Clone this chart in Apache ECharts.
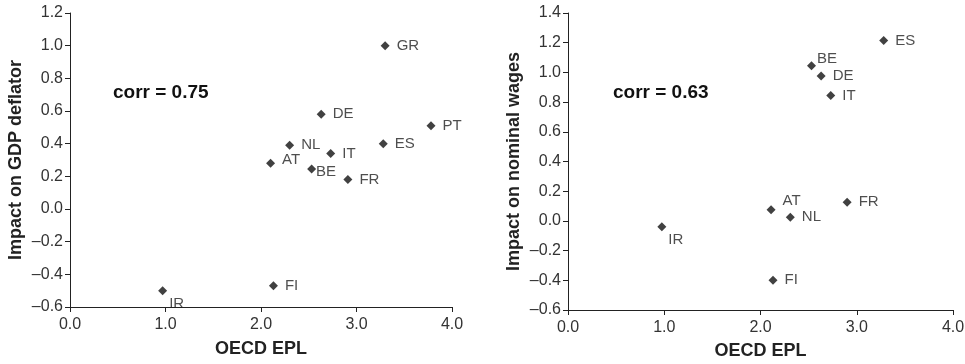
<!DOCTYPE html>
<html><head><meta charset="utf-8">
<script src="https://cdn.jsdelivr.net/npm/echarts@6/dist/echarts.min.js"></script>
<style>html,body{margin:0;padding:0;background:#fff}#c{width:965px;height:364px}</style>
</head><body><div id="c"></div>
<script>
// Left panel: Impact on GDP deflator
const leftCountries = ['GR','DE','PT','NL','ES','IT','AT','BE','FR','FI','IR'];
const leftEPL       = [3.30, 2.63, 3.78, 2.30, 3.28, 2.73, 2.10, 2.53, 2.91, 2.13, 0.97];
const leftImpact    = [1.00, 0.58, 0.51, 0.39, 0.40, 0.34, 0.28, 0.245, 0.18, -0.47, -0.50];
// Right panel: Impact on nominal wages
const rightCountries = ['ES','BE','DE','IT','AT','FR','NL','IR','FI'];
const rightEPL       = [3.28, 2.53, 2.63, 2.73, 2.11, 2.90, 2.31, 0.975, 2.13];
const rightImpact    = [1.215, 1.045, 0.975, 0.845, 0.075, 0.125, 0.025, -0.04, -0.40];
const leftCorr = 'corr = 0.75';
const rightCorr = 'corr = 0.63';
const xTitle = 'OECD EPL';
const leftYTitle = 'Impact on GDP deflator';
const rightYTitle = 'Impact on nominal wages';

const FONT = '"Liberation Sans", Arial, Helvetica, sans-serif';
const fmt = v => (v < 0 ? '\u2013' : '') + Math.abs(v).toFixed(1);

// label placement tweaks (style only)
const labelOffsets = {
  left: { IR: [-5, 13], BE: [-7, 3], AT: [0, -3] },
  right: { IR: [-5, 13], BE: [-6, -7], AT: [0, -9] }
};

function pts(countries, xs, ys, side) {
  return countries.map((c, i) => {
    const o = labelOffsets[side][c];
    const d = { value: [xs[i], ys[i]], name: c };
    if (o) d.label = { offset: o };
    return d;
  });
}

function xAxis(gi, gap) {
  return {
    gridIndex: gi, type: 'value', min: 0, max: 4, interval: 1,
    name: xTitle, nameLocation: 'middle', nameGap: gap,
    nameTextStyle: { fontFamily: FONT, fontWeight: 'bold', fontSize: 18, color: '#222' },
    axisLine: { show: true, onZero: false, lineStyle: { color: '#222', width: 1 } },
    axisTick: { show: true, length: 5, lineStyle: { color: '#222' } },
    axisLabel: { fontFamily: FONT, fontSize: 16, color: '#333', margin: 10, formatter: fmt },
    splitLine: { show: false }
  };
}
function yAxis(gi, min, max, name, gap) {
  return {
    gridIndex: gi, type: 'value', min: min, max: max, interval: 0.2,
    name: name, nameLocation: 'middle', nameGap: gap, nameRotate: 90,
    nameTextStyle: { fontFamily: FONT, fontWeight: 'bold', fontSize: 18, color: '#222' },
    axisLine: { show: true, onZero: false, lineStyle: { color: '#222', width: 1 } },
    axisTick: { show: true, length: 5, lineStyle: { color: '#222' } },
    axisLabel: { fontFamily: FONT, fontSize: 16, color: '#333', margin: 7, formatter: fmt },
    splitLine: { show: false }
  };
}
function series(gi, data) {
  return {
    type: 'scatter', xAxisIndex: gi, yAxisIndex: gi, data: data,
    symbol: 'diamond', symbolSize: 9,
    itemStyle: { color: '#111' },
    label: { show: true, position: 'right', distance: 7, formatter: p => p.name,
      fontFamily: FONT, fontSize: 15, color: '#222' },
    emphasis: { disabled: true }
  };
}

const chart = echarts.init(document.getElementById('c'), null, { renderer: 'canvas' });
chart.setOption({
  animation: false,
  backgroundColor: '#fff',
  grid: [
    { left: 70, right: 513, top: 13, bottom: 57, containLabel: false, outerBoundsMode: 'none' },
    { left: 568, right: 12, top: 13, bottom: 54, containLabel: false, outerBoundsMode: 'none' }
  ],
  xAxis: [xAxis(0, 33), xAxis(1, 32)],
  yAxis: [yAxis(0, -0.6, 1.2, leftYTitle, 45), yAxis(1, -0.6, 1.4, rightYTitle, 45)],
  series: [
    series(0, pts(leftCountries, leftEPL, leftImpact, 'left')),
    series(1, pts(rightCountries, rightEPL, rightImpact, 'right'))
  ],
  graphic: [
    { type: 'text', left: 113, top: 83, style: { text: leftCorr, font: 'bold 19px ' + FONT, fill: '#111' } },
    { type: 'text', left: 613, top: 83, style: { text: rightCorr, font: 'bold 19px ' + FONT, fill: '#111' } }
  ]
});
</script></body></html>
